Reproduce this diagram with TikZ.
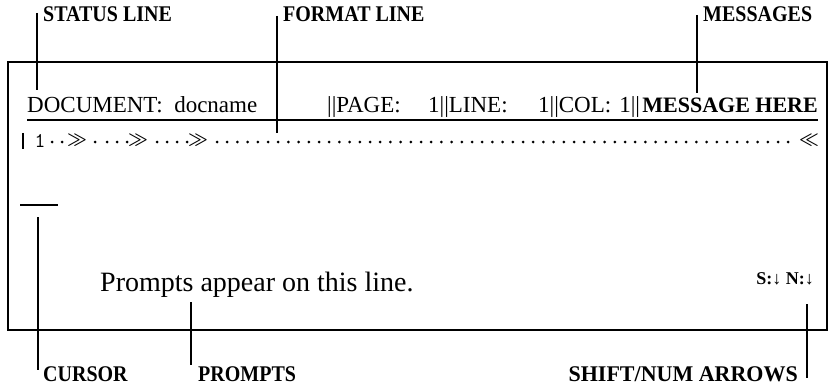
\documentclass[tikz,border=0pt]{standalone}
\usepackage{fontspec}
\setmainfont{Liberation Serif}
\newcommand{\lbltext}[1]{\scalebox{1}[1.12]{#1}}
\begin{document}
\begin{tikzpicture}[x=1pt,y=-1pt,
  frame/.style={line width=2.3pt},
  leader/.style={line width=1.8pt},
  lbl/.style={inner sep=0pt,font=\fontsize{20}{20}\selectfont\bfseries},
  stat/.style={inner sep=0pt,anchor=base west,font=\fontsize{23}{23}\selectfont},
  rdot/.style={circle,fill,inner sep=0pt,minimum size=3pt},
  chev/.style={inner sep=0pt,font=\fontsize{17}{17}\selectfont\boldmath}
]
\useasboundingbox (0,0) rectangle (832,385);
% screen frame
\coordinate (boxTL) at (8,62);
\coordinate (boxBR) at (827,330);
\draw[frame] (boxTL) rectangle (boxBR);

% top labels and leaders
\node[lbl,anchor=base west] (lstatus) at (43,22) {\lbltext{STATUS LINE}};
\node[lbl,anchor=base west] (lformat) at (283,22) {\lbltext{FORMAT LINE}};
\node[lbl,anchor=base west] (lmsg) at (703,22) {\lbltext{MESSAGES}};
\coordinate (stTop) at (37,13);  \coordinate (stBot) at (37,90);
\coordinate (fmTop) at (277,16); \coordinate (fmBot) at (277,133);
\coordinate (msTop) at (697,15); \coordinate (msBot) at (697,93);
\draw[leader] (stTop) -- (stBot);
\draw[leader] (fmTop) -- (fmBot);
\draw[leader] (msTop) -- (msBot);

% status line
\node[stat] (sdoc) at (27,113) {DOCUMENT:\hspace{0.5em}docname};
\node[stat] (spage) at (327,113) {||PAGE:};
\node[stat] (sline) at (428,113) {1||LINE:};
\node[stat] (scol) at (538,113) {1||COL:};
\node[inner sep=0pt,anchor=base east,font=\fontsize{22}{22}\selectfont\bfseries] (smsg) at (818,113) {MESSAGE HERE};
\node[stat,anchor=base east] (smsg1) at ([xshift=-2pt]smsg.base west) {1||};
\coordinate (ulL) at (27,120); \coordinate (ulR) at (818,120);
\draw[leader] (ulL) -- (ulR);

% format (ruler) line
\coordinate (rbT) at (23,133); \coordinate (rbB) at (23,149);
\draw[line width=1.6pt] (rbT) -- (rbB);
\node[inner sep=0pt,font=\fontsize{21}{21}\selectfont\ttfamily] (rone) at (40,141) {1};
\foreach \x in {52,62,95,107,117,127,157,167,177,187}
  \node[rdot] (d\x) at (\x,142) {};
\foreach \k in {0,...,56}
  \node[rdot] (e\k) at ({217+\k*10.2},142) {};
\node[chev] (g1) at (77,140) {$\gg$};
\node[chev] (g2) at (138,140) {$\gg$};
\node[chev] (g3) at (198,140) {$\gg$};
\node[chev] (l1) at (809,140) {$\ll$};

% cursor
\coordinate (curL) at (20,205); \coordinate (curR) at (58,205);
\draw[line width=2.5pt] (curL) -- (curR);

% prompt line
\node[anchor=base west,inner sep=0pt,font=\fontsize{28}{28}\selectfont] (prompt) at (100,291) {Prompts appear on this line.};
\node[anchor=base east,inner sep=0pt,font=\fontsize{18}{18}\selectfont\bfseries] (sn) at (814,284) {S:↓ N:↓};

% bottom labels and leaders
\node[lbl,anchor=base west] (lcursor) at (43,381) {\lbltext{CURSOR}};
\node[lbl,anchor=base west] (lprompt) at (198,381) {\lbltext{PROMPTS}};
\node[lbl,anchor=base east] (lshift) at (798,381) {\scalebox{1.1}[1.12]{SHIFT/NUM ARROWS}};
\coordinate (cuTop) at (38,217); \coordinate (cuBot) at (38,370);
\coordinate (prTop) at (191,302); \coordinate (prBot) at (191,365);
\coordinate (shTop) at (807,304); \coordinate (shBot) at (807,378);
\draw[leader] (cuTop) -- (cuBot);
\draw[leader] (prTop) -- (prBot);
\draw[leader] (shTop) -- (shBot);
\end{tikzpicture}
\end{document}
